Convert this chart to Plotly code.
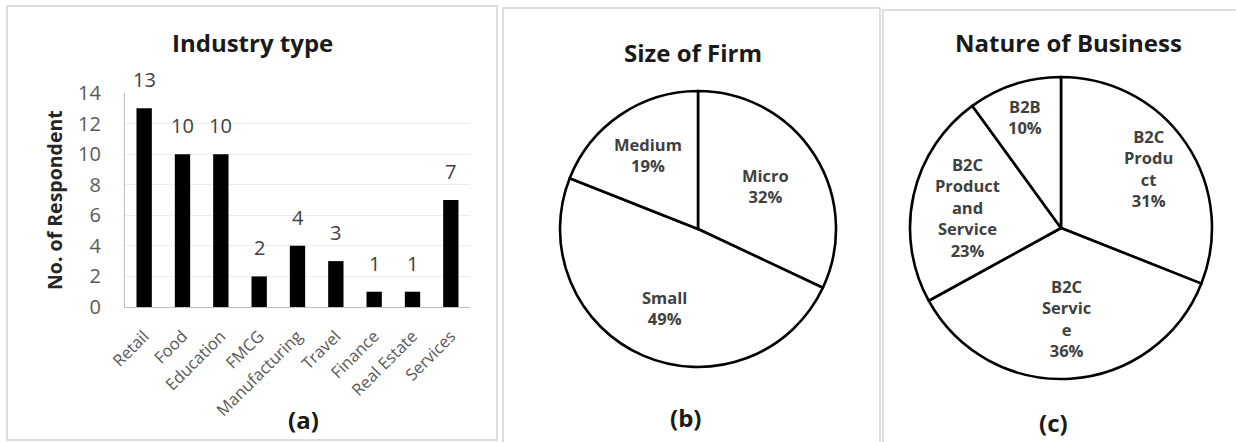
import math
import plotly.graph_objects as go

# ---------------- data ----------------
industry_categories = ["Retail", "Food", "Education", "FMCG", "Manufacturing",
                       "Travel", "Finance", "Real Estate", "Services"]
industry_counts = [13, 10, 10, 2, 4, 3, 1, 1, 7]
y_tick_values = [0, 2, 4, 6, 8, 10, 12, 14]

firm_size_labels = ["Micro", "Small", "Medium"]
firm_size_values = [32, 49, 19]

business_labels = ["B2C Product", "B2C Service", "B2C Product and Service", "B2B"]
business_values = [31, 36, 23, 10]

# ---------------- layout helpers ----------------
W, H = 1236, 442
FONT = "Open Sans"


def px(x):
    return x / W


def py(y):
    return 1 - y / H


# wrapped display text (as in the picture)
wrap = {
    "B2C Product": "B2C<br>Produ<br>ct",
    "B2C Service": "B2C<br>Servic<br>e",
    "B2C Product and Service": "B2C<br>Product<br>and<br>Service",
}

fig = go.Figure()

# ---------------- bar chart (a) ----------------
fig.add_trace(go.Bar(
    x=industry_categories, y=industry_counts,
    marker=dict(color="black", line=dict(width=0)),
    width=0.4, xaxis="x", yaxis="y", showlegend=False, hoverinfo="x+y",
))

annotations = []
for c, v in zip(industry_categories, industry_counts):
    annotations.append(dict(x=c, y=v, xref="x", yref="y", text=str(v),
                            showarrow=False, yanchor="bottom", yshift=13,
                            font=dict(family=FONT, size=20, color="#404040")))

# ---------------- pies ----------------
pies = [
    dict(labels=firm_size_labels, values=firm_size_values, cx=698, cy=229, r=138,
         frac=[0.58, 0.62, 0.65]),
    dict(labels=business_labels, values=business_values, cx=1061, cy=228, r=151,
         frac=[0.70, 0.60, 0.635, 0.77]),
]
for p in pies:
    cx, cy, r = p["cx"], p["cy"], p["r"]
    fig.add_trace(go.Pie(
        labels=p["labels"], values=p["values"], sort=False, direction="clockwise",
        rotation=0, textinfo="none", hoverinfo="label+percent",
        marker=dict(colors=["white"] * len(p["values"]),
                    line=dict(color="black", width=2.6)),
        domain=dict(x=[px(cx - r), px(cx + r)], y=[py(cy + r), py(cy - r)]),
        showlegend=False,
    ))
    total = sum(p["values"])
    cum = 0
    for lab, val, f in zip(p["labels"], p["values"], p["frac"]):
        mid = (cum + val / 2) / total * 2 * math.pi
        cum += val
        x = cx + f * r * math.sin(mid)
        y = cy - f * r * math.cos(mid)
        txt = wrap.get(lab, lab) + "<br>" + f"{round(val / total * 100)}%"
        annotations.append(dict(x=px(x), y=py(y), xref="paper", yref="paper",
                                text=txt, showarrow=False, xanchor="center",
                                yanchor="middle",
                                font=dict(family=FONT, size=16.5, color="#404040",
                                          weight="bold")))

# ---------------- titles / captions ----------------
title_font = dict(family=FONT, size=24, color="#1a1a1a", weight="bold")
for txt, x, y in [("Industry type", 252, 43), ("Size of Firm", 693, 52),
                  ("Nature of Business", 1068, 43)]:
    annotations.append(dict(x=px(x), y=py(y), xref="paper", yref="paper", text=txt,
                            showarrow=False, xanchor="center", yanchor="middle",
                            font=title_font))
for txt, x, y in [("(a)", 303, 419), ("(b)", 685, 417), ("(c)", 1053, 422)]:
    annotations.append(dict(x=px(x), y=py(y), xref="paper", yref="paper", text=txt,
                            showarrow=False, xanchor="center", yanchor="middle",
                            font=dict(family=FONT, size=24, color="#1a1a1a",
                                      weight="bold")))
annotations.append(dict(x=px(55), y=py(200), xref="paper", yref="paper",
                        text="No. of Respondent", textangle=-90, showarrow=False,
                        xanchor="center", yanchor="middle",
                        font=dict(family=FONT, size=19.5, color="#262626",
                                  weight="bold")))

# ---------------- panel borders ----------------
shapes = []
for x0, y0, x1, y1 in [(7, 6, 497, 440), (503, 8, 880, 444), (883, 10, 1240, 444)]:
    shapes.append(dict(type="rect", xref="paper", yref="paper",
                       x0=px(x0), x1=px(x1), y0=py(y1), y1=py(y0),
                       line=dict(color="#d4d4d4", width=1.5),
                       fillcolor="rgba(0,0,0,0)", layer="below"))

fig.update_layout(
    template="none",
    width=W, height=H, margin=dict(l=0, r=0, t=0, b=0, pad=0, autoexpand=False),
    paper_bgcolor="white", plot_bgcolor="white",
    bargap=0.6,
    xaxis=dict(domain=[px(125), px(470)], type="category", automargin=False,
               tickangle=-45, tickfont=dict(family=FONT, size=16.5, color="#595959"),
               showline=True, linecolor="#bfbfbf", linewidth=1.2,
               ticks="outside", ticklen=12, tickcolor="rgba(0,0,0,0)",
               showgrid=False, fixedrange=True),
    yaxis=dict(domain=[py(307), py(93)], range=[0, 14], tickvals=y_tick_values,
               automargin=False,
               tickfont=dict(family=FONT, size=20, color="#595959"),
               showline=True, linecolor="#bfbfbf", linewidth=1.2,
               showgrid=True, gridcolor="#ededed", gridwidth=1,
               ticks="outside", ticklen=19, tickcolor="rgba(0,0,0,0)",
               zeroline=False, fixedrange=True),
    annotations=annotations,
    shapes=shapes,
)

fig.write_html("out.html", config={"displayModeBar": False},
               post_script="document.body.style.margin='0';")
